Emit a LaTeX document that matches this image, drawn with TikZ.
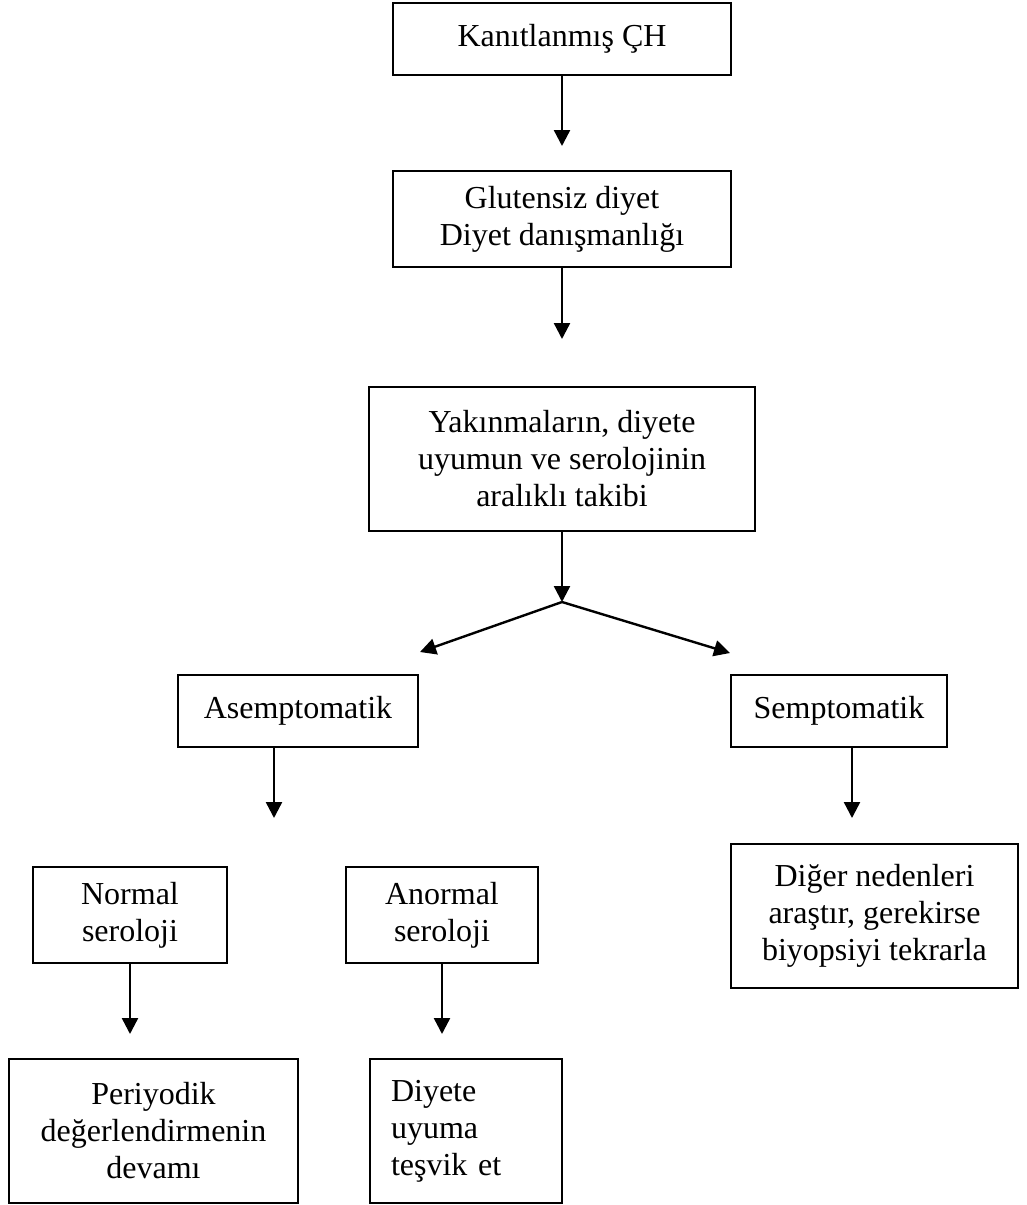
\documentclass[tikz,border=0pt]{standalone}
\usepackage{fontspec}
\setmainfont{Liberation Serif}
\usetikzlibrary{arrows.meta}

\begin{document}
\begin{tikzpicture}[x=0.5pt, y=-0.5pt,
    every node/.style={font=\fontsize{16}{18.5}\selectfont},
    box/.style={draw, line width=1pt, align=center, inner sep=2pt},
    arr/.style={-{Triangle[length=8pt, width=8pt]}, line width=1.2pt}]
  \useasboundingbox (0,0) rectangle (1027,1205);

  % Main chain
  \node[box, minimum width=169pt, minimum height=36pt]
    (kanit) at (562,39) {Kanıtlanmış ÇH};
  \node[box, minimum width=169pt, minimum height=48pt]
    (diyet) at (562,219) {Glutensiz diyet\\Diyet danışmanlığı};
  \node[box, minimum width=193pt, minimum height=72pt]
    (takip) at (562,459) {Yakınmaların, diyete\\uyumun ve serolojinin\\aralıklı takibi};

  % Arrow ends
  \coordinate (kanitEnd) at (562,146);
  \coordinate (diyetEnd) at (562,339);
  \coordinate (split) at (562,602);
  \coordinate (asemTip) at (420,652);
  \coordinate (sempTip) at (730,653);

  \draw[arr] (kanit.south) -- (kanitEnd);
  \draw[arr] (diyet.south) -- (diyetEnd);
  \draw[arr] (takip.south) -- (split);
  \draw[arr] (split) -- (asemTip);
  \draw[arr] (split) -- (sempTip);

  % Second level
  \node[box, minimum width=120pt, minimum height=36pt]
    (asem) at (298,711) {Asemptomatik};
  \node[box, minimum width=108pt, minimum height=36pt]
    (semp) at (839,711) {Semptomatik};

  \coordinate (asemEnd) at (274,818);
  \coordinate (sempEnd) at (852,818);
  \draw[arr] (asemEnd |- asem.south) -- (asemEnd);
  \draw[arr] (sempEnd |- semp.south) -- (sempEnd);

  % Serology
  \node[box, minimum width=97pt, minimum height=48pt]
    (normal) at (130,915) {Normal\\seroloji};
  \node[box, minimum width=96pt, minimum height=48pt]
    (anormal) at (442,915) {Anormal\\seroloji};
  \node[box, minimum width=143.5pt, minimum height=72pt]
    (diger) at (874.5,915.5) {Diğer nedenleri\\araştır, gerekirse\\biyopsiyi tekrarla};

  \coordinate (normalEnd) at (130,1034);
  \coordinate (anormalEnd) at (442,1034);
  \draw[arr] (normal.south) -- (normalEnd);
  \draw[arr] (anormal.south) -- (anormalEnd);

  % Bottom row
  \node[box, minimum width=144.5pt, minimum height=72pt]
    (periyodik) at (153.5,1131) {Periyodik\\değerlendirmenin\\devamı};
  \node[box, align=left, text width=75pt, inner xsep=10.5pt, minimum height=72pt]
    (uyum) at (466,1131) {Diyete\\uyuma\\teşvik et};
\end{tikzpicture}
\end{document}
